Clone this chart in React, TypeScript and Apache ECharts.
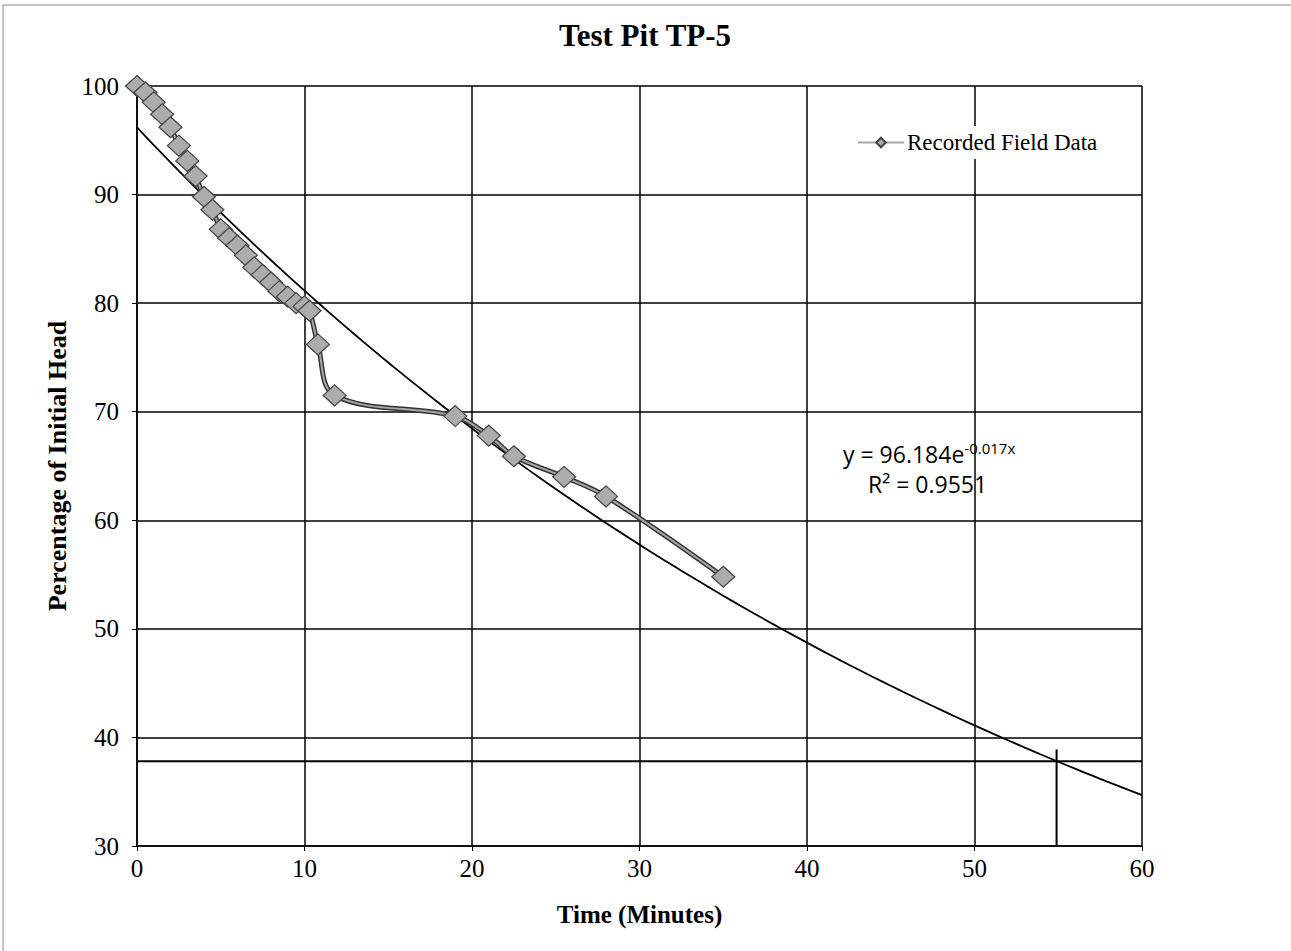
import React, { useEffect, useRef } from "react";
import * as echarts from "echarts";

const timeMin: number[] = [0, 0.5, 1, 1.5, 2, 2.5, 3, 3.5, 4, 4.5, 5, 5.5, 6, 6.5, 7, 7.5, 8, 8.5, 9, 9.5, 10, 10.3, 10.8, 11.8, 19, 21, 22.5, 25.5, 28, 35];
const headPct: number[] = [100, 99.4, 98.5, 97.4, 96.2, 94.5, 93.1, 91.7, 89.8, 88.6, 86.8, 86.0, 85.3, 84.4, 83.3, 82.6, 81.9, 81.1, 80.6, 80.0, 79.7, 79.3, 76.2, 71.5, 69.6, 67.8, 65.9, 64.0, 62.2, 54.8];

const fitA = 96.184;
const fitK = -0.017;

const refHead = 37.8;
const refTime = 54.9;
const refTop = 38.9;

const xTicks: number[] = [0, 10, 20, 30, 40, 50, 60];
const yTicks: number[] = [30, 40, 50, 60, 70, 80, 90, 100];

const SERIF = "'Liberation Serif', 'Times New Roman', serif";
const SANS = "'Open Sans', 'Liberation Sans', sans-serif";

export default function App() {
  const ref = useRef<HTMLDivElement>(null);
  useEffect(() => {
    if (!ref.current) return;
    const chart = echarts.init(ref.current, undefined, { renderer: "svg" });
    const fitData: number[][] = [];
    for (let x = 0; x <= 60; x += 1) fitData.push([x, fitA * Math.exp(fitK * x)]);
    const field = timeMin.map((t, i) => [t, headPct[i]]);
    chart.setOption({
      animation: false,
      backgroundColor: "#fff",
      title: {
        text: "Test Pit TP-5",
        left: 640,
        textAlign: "center",
        top: 15,
        textStyle: { fontFamily: SERIF, fontWeight: "bold", fontSize: 31, color: "#000" },
      },
      graphic: [
        { type: "rect", shape: { x: 3, y: 5, width: 1300, height: 960 }, style: { fill: "none", stroke: "#888", lineWidth: 1 }, silent: true },
        {
          type: "text",
          left: 843,
          top: 440,
          style: {
            text: "y = 96.184e{sup|-0.017x}",
            font: "23px " + SANS,
            fill: "#000",
            rich: { sup: { fontSize: 15, verticalAlign: "top", padding: [0, 0, 12, 0], fontFamily: SANS } },
          },
        },
        {
          type: "text",
          left: 868,
          top: 472,
          style: { text: "R² = 0.9551", font: "23px " + SANS, fill: "#000" },
        },
      ],
      legend: {
        left: 852,
        top: 126,
        data: [{ name: "Recorded Field Data" }],
        itemWidth: 46,
        itemHeight: 12,
        itemGap: 4,
        textStyle: { fontFamily: SERIF, fontSize: 23, color: "#000", padding: [0, 0, 0, -2] },
        backgroundColor: "#fff",
      },
      grid: { left: 137, right: 149, top: 86, bottom: 105 },
      xAxis: {
        type: "value",
        min: xTicks[0],
        max: xTicks[xTicks.length - 1],
        interval: 10,
        name: "Time (Minutes)",
        nameLocation: "middle",
        nameGap: 56,
        nameTextStyle: { fontFamily: SERIF, fontWeight: "bold", fontSize: 25, color: "#000" },
        axisLine: { lineStyle: { color: "#000", width: 1.5 } },
        axisTick: { show: true, length: 5, lineStyle: { color: "#000" } },
        axisLabel: { fontFamily: SERIF, fontSize: 25, color: "#000", margin: 10 },
        splitLine: { show: true, lineStyle: { color: "#000", width: 1.5 } },
      },
      yAxis: {
        type: "value",
        min: yTicks[0],
        max: yTicks[yTicks.length - 1],
        interval: 10,
        name: "Percentage of Initial Head",
        nameLocation: "middle",
        nameGap: 66,
        nameTextStyle: { fontFamily: SERIF, fontWeight: "bold", fontSize: 26, color: "#000" },
        axisLine: { show: true, lineStyle: { color: "#000", width: 1.5 } },
        axisTick: { show: true, length: 5, lineStyle: { color: "#000" } },
        axisLabel: { fontFamily: SERIF, fontSize: 25, color: "#000", margin: 18 },
        splitLine: { show: true, lineStyle: { color: "#000", width: 1.5 } },
      },
      series: [
        {
          name: "Expon. fit",
          type: "line",
          data: fitData,
          showSymbol: false,
          smooth: true,
          lineStyle: { color: "#000", width: 1.8 },
          z: 3,
        },
        {
          name: "ref-h",
          type: "line",
          data: [[xTicks[0], refHead], [xTicks[xTicks.length - 1], refHead]],
          showSymbol: false,
          lineStyle: { color: "#000", width: 2 },
          z: 3,
        },
        {
          name: "ref-v",
          type: "line",
          data: [[refTime, yTicks[0]], [refTime, refTop]],
          showSymbol: false,
          lineStyle: { color: "#000", width: 2 },
          z: 3,
        },
        {
          name: "outline",
          type: "line",
          data: field,
          smooth: 0.35,
          showSymbol: false,
          lineStyle: { color: "#333", width: 5 },
          z: 4,
        },
        {
          name: "Recorded Field Data",
          type: "line",
          data: field,
          smooth: 0.35,
          symbol: "diamond",
          symbolSize: [23, 21],
          itemStyle: { color: "#acacac", borderColor: "#444", borderWidth: 1.2 },
          lineStyle: { color: "#a8a8a8", width: 2 },
          z: 5,
        },
      ],
    });
    return () => chart.dispose();
  }, []);
  return <div ref={ref} style={{ position: "absolute", left: 0, top: 0, width: 1291, height: 951 }} />;
}
